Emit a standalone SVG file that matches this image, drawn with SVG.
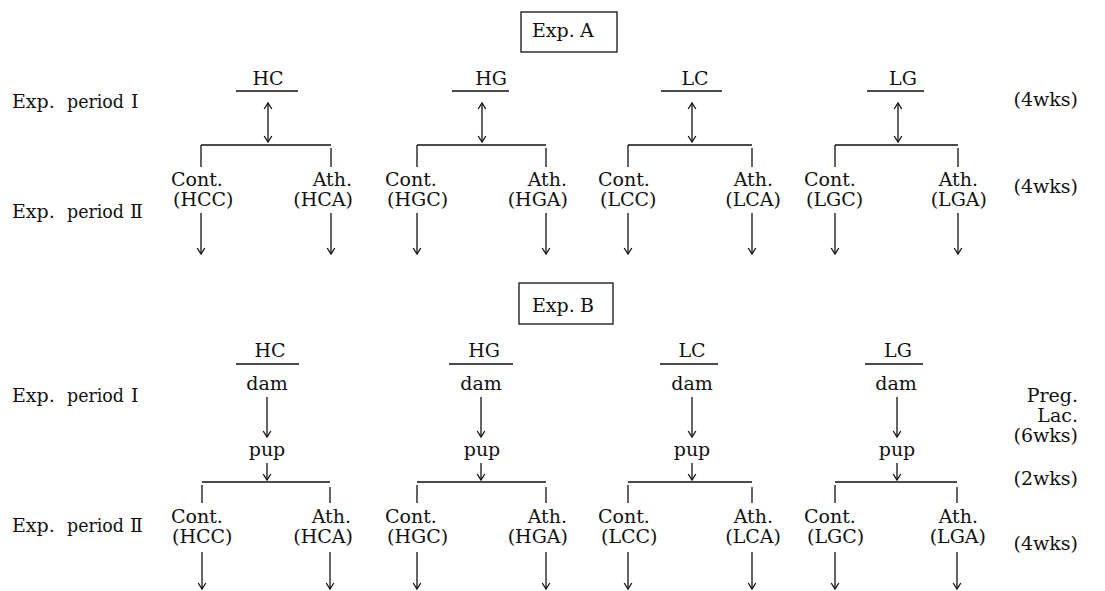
<svg xmlns="http://www.w3.org/2000/svg" width="1105" height="591" viewBox="0 0 1105 591">
<style>
text{font-family:"DejaVu Serif","Liberation Serif",serif;font-size:19px;fill:#111}
.e{text-anchor:end}
.m{text-anchor:middle}
.ln{stroke:#111;stroke-width:1.3;fill:none}
.ar{stroke:#111;stroke-width:1.3;fill:none;marker-end:url(#ah)}
.da{stroke:#111;stroke-width:1.3;fill:none;marker-end:url(#ah);marker-start:url(#ah2)}
</style>
<defs>
<marker id="ah" viewBox="-8 -5 9 10" markerWidth="9" markerHeight="10" refX="0" refY="0" orient="auto" markerUnits="userSpaceOnUse"><path d="M-6,-3.8 L0,0 L-6,3.8" fill="none" stroke="#111" stroke-width="1.3"/></marker>
<marker id="ah2" viewBox="-8 -5 9 10" markerWidth="9" markerHeight="10" refX="0" refY="0" orient="auto-start-reverse" markerUnits="userSpaceOnUse"><path d="M-6,-3.8 L0,0 L-6,3.8" fill="none" stroke="#111" stroke-width="1.3"/></marker>
</defs>
<rect width="1105" height="591" fill="#fff"/>

<!-- Exp A header -->
<g id="expA">
<rect x="521" y="12" width="96" height="40" class="ln"/>
<text x="532" y="37">Exp.<tspan x="580">A</tspan></text>
</g>
<g id="labelsA">
<text x="12" y="108">Exp.</text><text x="67" y="108" textLength="57" lengthAdjust="spacingAndGlyphs">period</text><text x="131" y="108">Ⅰ</text>
<text x="12" y="218">Exp.</text><text x="67" y="218" textLength="57" lengthAdjust="spacingAndGlyphs">period</text><text x="130" y="218">Ⅱ</text>
<text x="1078" y="106" class="e">(4wks)</text>
<text x="1078" y="193" class="e">(4wks)</text>
</g>

<!-- Exp A groups -->
<g id="A-HC">
<text x="268" y="85" class="m">HC</text>
<text x="171" y="186">Cont.</text><text x="173" y="206">(HCC)</text>
<text x="352" y="186" class="e">Ath.</text><text x="353" y="206" class="e">(HCA)</text>
</g>
<g id="A-HG">
<text x="491" y="85" class="m">HG</text>
<text x="385" y="186">Cont.</text><text x="387" y="206">(HGC)</text>
<text x="567" y="186" class="e">Ath.</text><text x="568" y="206" class="e">(HGA)</text>
</g>
<g id="A-LC">
<text x="695" y="85" class="m">LC</text>
<text x="598" y="186">Cont.</text><text x="600" y="206">(LCC)</text>
<text x="773" y="186" class="e">Ath.</text><text x="781" y="206" class="e">(LCA)</text>
</g>
<g id="A-LG">
<text x="903" y="85" class="m">LG</text>
<text x="804" y="186">Cont.</text><text x="806" y="206">(LGC)</text>
<text x="978" y="186" class="e">Ath.</text><text x="987" y="206" class="e">(LGA)</text>
</g>

<!-- Exp B header -->
<g id="expB">
<rect x="519" y="283" width="94" height="41" class="ln"/>
<text x="532" y="312">Exp.<tspan x="580">B</tspan></text>
</g>
<g id="labelsB">
<text x="12" y="402">Exp.</text><text x="67" y="402" textLength="57" lengthAdjust="spacingAndGlyphs">period</text><text x="131" y="402">Ⅰ</text>
<text x="12" y="532">Exp.</text><text x="67" y="532" textLength="57" lengthAdjust="spacingAndGlyphs">period</text><text x="130" y="532">Ⅱ</text>
<text x="1078" y="402" class="e">Preg.</text>
<text x="1078" y="422" class="e">Lac.</text>
<text x="1078" y="442" class="e">(6wks)</text>
<text x="1078" y="485" class="e">(2wks)</text>
<text x="1078" y="550" class="e">(4wks)</text>
</g>

<g id="B-HC">
<text x="270" y="357" class="m">HC</text>
<text x="267" y="390" class="m">dam</text>
<text x="267" y="456" class="m">pup</text>
<text x="171" y="523">Cont.</text><text x="172" y="543">(HCC)</text>
<text x="351" y="523" class="e">Ath.</text><text x="353" y="543" class="e">(HCA)</text>
</g>
<g id="B-HG">
<text x="484" y="357" class="m">HG</text>
<text x="481" y="390" class="m">dam</text>
<text x="482" y="456" class="m">pup</text>
<text x="385" y="523">Cont.</text><text x="387" y="543">(HGC)</text>
<text x="567" y="523" class="e">Ath.</text><text x="568" y="543" class="e">(HGA)</text>
</g>
<g id="B-LC">
<text x="692" y="357" class="m">LC</text>
<text x="692" y="390" class="m">dam</text>
<text x="692" y="456" class="m">pup</text>
<text x="598" y="523">Cont.</text><text x="601" y="543">(LCC)</text>
<text x="773" y="523" class="e">Ath.</text><text x="781" y="543" class="e">(LCA)</text>
</g>
<g id="B-LG">
<text x="898" y="357" class="m">LG</text>
<text x="896" y="390" class="m">dam</text>
<text x="897" y="456" class="m">pup</text>
<text x="804" y="523">Cont.</text><text x="807" y="543">(LGC)</text>
<text x="978" y="523" class="e">Ath.</text><text x="986" y="543" class="e">(LGA)</text>
</g>

<g id="connectors">
<path class="ln" d="M236,91H298M452,91H509M661,91H722M867,91H924"/>
<path class="da" d="M268,103V142"/>
<path class="da" d="M482,103V142"/>
<path class="da" d="M692,103V142"/>
<path class="da" d="M898,103V142"/>
<path class="ln" d="M201,145H331M201,145V167M331,148V167"/>
<path class="ln" d="M417,145H546M417,145V167M546,148V167"/>
<path class="ln" d="M628,145H752M628,145V167M752,148V167"/>
<path class="ln" d="M835,145H958M835,145V167M958,148V167"/>
<path class="ar" d="M201,213V254"/><path class="ar" d="M331,213V254"/>
<path class="ar" d="M417,213V254"/><path class="ar" d="M546,213V254"/>
<path class="ar" d="M628,213V254"/><path class="ar" d="M752,213V254"/>
<path class="ar" d="M835,213V254"/><path class="ar" d="M958,213V254"/>

<path class="ln" d="M236,364H299M449,364H513M660,364H718M865,364H923"/>
<path class="ar" d="M267,397V437"/><path class="ar" d="M481,397V437"/>
<path class="ar" d="M692,397V437"/><path class="ar" d="M897,397V437"/>
<path class="ar" d="M267,463V480"/><path class="ar" d="M481,463V480"/>
<path class="ar" d="M692,463V480"/><path class="ar" d="M897,463V480"/>
<path class="ln" d="M202,482H330M202,485V503M330,487V503"/>
<path class="ln" d="M417,482H546M417,485V503M546,487V503"/>
<path class="ln" d="M628,482H752M628,485V503M752,487V503"/>
<path class="ln" d="M835,482H957M835,485V503M957,487V503"/>
<path class="ar" d="M202,552V589"/><path class="ar" d="M330,552V589"/>
<path class="ar" d="M417,552V589"/><path class="ar" d="M546,552V589"/>
<path class="ar" d="M628,552V589"/><path class="ar" d="M752,552V589"/>
<path class="ar" d="M835,552V589"/><path class="ar" d="M957,552V589"/>
</g>
</svg>
